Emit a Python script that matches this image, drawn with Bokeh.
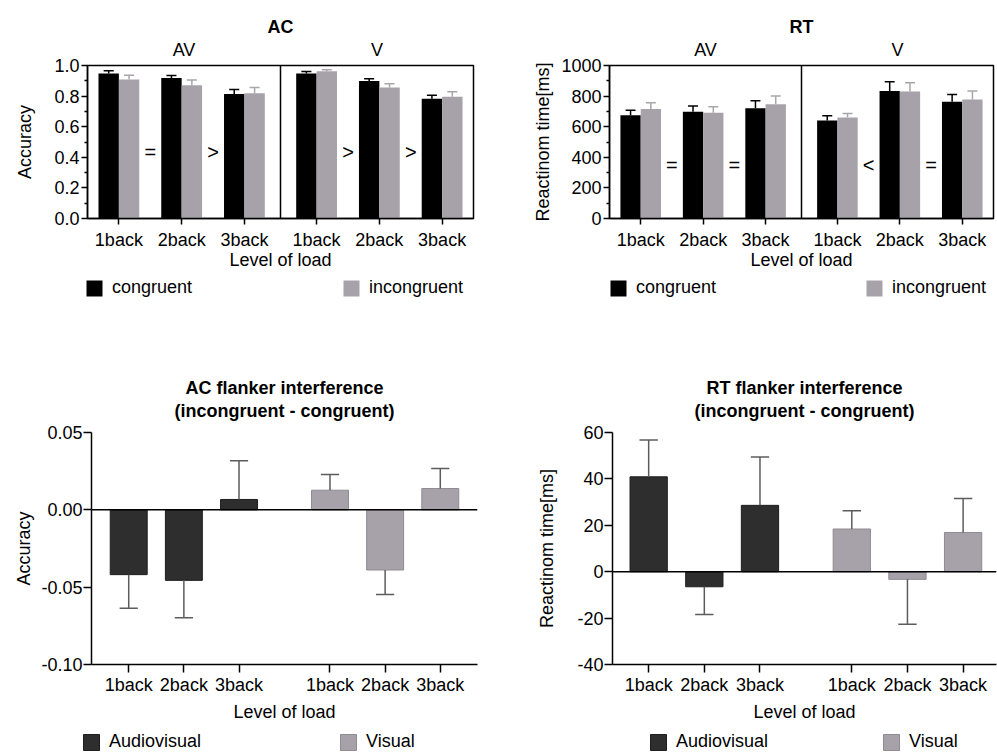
from bokeh.plotting import figure
from bokeh.models import (FixedTicker, NumeralTickFormatter, Span, LinearAxis,
                          Legend, LegendItem, Range1d)
from bokeh.layouts import row, column
from bokeh.embed import file_html
from bokeh.resources import INLINE
from bokeh.core.properties import value

# ---------------- data ----------------
load_levels = ["1back", "2back", "3back"]
modality_groups = ["AV", "V"]

# Accuracy (AV 1-3back, then V 1-3back)
ac_congruent = [0.948, 0.919, 0.813, 0.948, 0.898, 0.782]
ac_congruent_err = [0.017, 0.016, 0.030, 0.013, 0.015, 0.024]
ac_incongruent = [0.908, 0.871, 0.819, 0.963, 0.856, 0.795]
ac_incongruent_err = [0.029, 0.035, 0.037, 0.009, 0.024, 0.033]
ac_comparisons = ["=", ">", ">", ">"]

# Reaction time (ms)
rt_congruent = [675, 697, 721, 641, 834, 763]
rt_congruent_err = [33, 39, 48, 30, 59, 47]
rt_incongruent = [715, 691, 747, 660, 830, 778]
rt_incongruent_err = [41, 39, 53, 26, 57, 56]
rt_comparisons = ["=", "=", "<", "="]

# Flanker interference (incongruent - congruent)
ac_interference_av = [-0.0419, -0.0456, 0.0067]
ac_interference_av_err = [0.0218, 0.0241, 0.0251]
ac_interference_v = [0.0127, -0.0389, 0.0138]
ac_interference_v_err = [0.0101, 0.0159, 0.0129]

rt_interference_av = [40.9, -6.5, 28.6]
rt_interference_av_err = [15.9, 12.0, 20.8]
rt_interference_v = [18.4, -3.3, 16.9]
rt_interference_v_err = [7.9, 19.3, 14.6]

condition_labels = ["congruent", "incongruent"]
modality_labels = ["Audiovisual", "Visual"]
subtitle = "(incongruent - congruent)"

# ---------------- layout / style ----------------
FONT = "Liberation Sans"
FS = "18px"
GRAY = "#a7a2a9"
GRAY_LINE = "#8f8b91"
GRAY_ERR = "#a9a6ab"
DARK = "#2e2e2e"
DARK_LINE = "#1e1e1e"
ERR = "#5c5c5c"

TOP_POS = [80, 160, 240, 332, 412, 492]
TOP_XR = (40, 532)
TOP_DIV = 286
TOP_GROUP_POS = [163, 409]
BOT_POS = [20, 40, 60, 93, 113, 133]


def style_axis(ax):
    ax.axis_line_width = 1.5
    ax.axis_line_color = "black"
    ax.major_tick_line_width = 1.5
    ax.major_tick_line_color = "black"
    ax.minor_tick_line_width = 1.5
    ax.minor_tick_line_color = "black"
    ax.major_tick_in = 0
    ax.minor_tick_in = 0
    ax.major_label_text_font = FONT
    ax.major_label_text_font_size = FS
    ax.major_label_text_color = "black"
    ax.axis_label_text_font = FONT
    ax.axis_label_text_font_size = FS
    ax.axis_label_text_font_style = "normal"
    ax.axis_label_text_color = "black"


def make_fig(xr, yr, fw, fh, left, right, top, bottom):
    p = figure(frame_width=fw, frame_height=fh,
               x_range=Range1d(*xr), y_range=Range1d(*yr),
               output_backend="svg", toolbar_location=None,
               min_border_left=left, min_border_right=right,
               min_border_top=top, min_border_bottom=bottom)
    p.xgrid.visible = False
    p.ygrid.visible = False
    p.background_fill_color = "white"
    p.border_fill_color = "white"
    for ax in p.axis:
        style_axis(ax)
    return p


def text_axis_above(p, ticks, labels, axis_label, standoff, label_standoff,
                    bold):
    xa = LinearAxis(ticker=FixedTicker(ticks=ticks, minor_ticks=[]),
                    major_label_overrides={t: l for t, l in zip(ticks, labels)},
                    axis_label=axis_label)
    style_axis(xa)
    xa.axis_line_color = None
    xa.major_tick_line_color = None
    xa.minor_tick_line_color = None
    xa.major_tick_out = 0
    xa.minor_tick_out = 0
    xa.major_label_standoff = standoff
    xa.axis_label_standoff = label_standoff
    if bold:
        xa.axis_label_text_font_style = "bold"
    p.add_layout(xa, "above")
    return xa


def legend_fig(width, height, labels, series, fills, lines, xs, y):
    # a strip holding the legend; the series are drawn outside its view range
    lf = figure(width=width, height=height, x_range=Range1d(-2, -1),
                y_range=Range1d(-2, -1), output_backend="svg",
                toolbar_location=None, min_border=0,
                x_axis_type=None, y_axis_type=None)
    lf.outline_line_color = None
    lf.background_fill_color = "white"
    lf.border_fill_color = "white"
    for lab, (sx, sy), fc, lc, x in zip(labels, series, fills, lines, xs):
        r = lf.vbar(x=sx, top=sy, bottom=0, width=1, fill_color=fc,
                    line_color=lc)
        leg = Legend(items=[LegendItem(label=lab, renderers=[r])],
                     location=(x, y), orientation="horizontal",
                     glyph_width=20, glyph_height=20, label_height=20,
                     label_width=10, label_standoff=8, padding=0, margin=0,
                     spacing=0, border_line_color=None,
                     background_fill_alpha=0,
                     label_text_font=FONT, label_text_font_size=FS,
                     label_text_color="black")
        lf.add_layout(leg, "center")
    return lf


def top_panel(title, cong, cong_err, inc, inc_err, yr, yticks, yminor, fmt,
              ylabel, comps, comp_y, left, fw, right, ylab_standoff):
    p = make_fig(TOP_XR, yr, fw, 153, left, right, 65, 56)
    half = 13
    xc = [x - half for x in TOP_POS]
    xi = [x + half for x in TOP_POS]
    p.vbar(x=xc, top=cong, bottom=0, width=2 * half,
           fill_color="black", line_color=None)
    p.vbar(x=xi, top=inc, bottom=0, width=2 * half,
           fill_color=GRAY, line_color=None)
    cap = 6.4
    for xs, vals, errs, col in [(xc, cong, cong_err, "black"),
                                (xi, inc, inc_err, GRAY_ERR)]:
        tips = [v + e for v, e in zip(vals, errs)]
        p.segment(x0=xs, y0=vals, x1=xs, y1=tips, line_color=col, line_width=1.5)
        p.segment(x0=[x - cap for x in xs], y0=tips, x1=[x + cap for x in xs],
                  y1=tips, line_color=col, line_width=1.5)
    p.add_layout(Span(location=TOP_DIV, dimension="height",
                      line_color="black", line_width=1.5))
    cx = [(TOP_POS[i] + TOP_POS[i + 1]) / 2 for i in (0, 1, 3, 4)]
    p.text(x=cx, y=[comp_y] * len(cx), text=comps,
           text_font=value(FONT), text_font_size=value("20px"),
           text_align="center", text_baseline="middle", text_color="black")
    p.yaxis.ticker = FixedTicker(ticks=yticks, minor_ticks=yminor)
    p.yaxis.formatter = NumeralTickFormatter(format=fmt)
    p.yaxis.axis_label = ylabel
    p.yaxis.major_tick_out = 6
    p.yaxis.minor_tick_out = 3
    p.yaxis.major_label_standoff = 2
    p.yaxis.axis_label_standoff = ylab_standoff
    xb = p.below[0]
    xb.ticker = FixedTicker(ticks=TOP_POS, minor_ticks=[])
    xb.major_label_overrides = {pos: lab for pos, lab in
                                zip(TOP_POS, load_levels * 2)}
    xb.major_tick_out = 6
    xb.major_label_standoff = 5
    xb.axis_label = "Level of load"
    xb.axis_label_standoff = -3
    text_axis_above(p, TOP_GROUP_POS, modality_groups, title, 6, 0, True)
    p.outline_line_color = "black"
    p.outline_line_width = 1.5
    p.outline_line_alpha = 1.0
    return p, [(xc, cong), (xi, inc)]


def bottom_panel(title, av, av_err, v, v_err, xr, yr, yticks, fmt, ylabel,
                 left, fw, right, ylab_standoff):
    p = make_fig(xr, yr, fw, 232, left, right, 94, 64)
    # two bold title lines built as label-only axes above the frame
    text_axis_above(p, [], [], subtitle, 0, 12, True)
    text_axis_above(p, [], [], title, 0, 0, True)
    w = 13.4
    xa = BOT_POS[:3]
    xv = BOT_POS[3:]
    p.vbar(x=xa, top=av, bottom=0, width=w, fill_color=DARK,
           line_color=DARK_LINE, line_width=1)
    p.vbar(x=xv, top=v, bottom=0, width=w, fill_color=GRAY,
           line_color=GRAY_LINE, line_width=1)
    cap = 3.3
    for xs, vals, errs in [(xa, av, av_err), (xv, v, v_err)]:
        tips = [val + (e if val >= 0 else -e) for val, e in zip(vals, errs)]
        p.segment(x0=xs, y0=vals, x1=xs, y1=tips, line_color=ERR,
                  line_width=1.5)
        p.segment(x0=[x - cap for x in xs], y0=tips,
                  x1=[x + cap for x in xs], y1=tips,
                  line_color=ERR, line_width=1.5)
    p.add_layout(Span(location=0, dimension="width", line_color="black",
                      line_width=1.5))
    p.yaxis.ticker = FixedTicker(ticks=yticks, minor_ticks=[])
    p.yaxis.formatter = NumeralTickFormatter(format=fmt)
    p.yaxis.axis_label = ylabel
    p.yaxis.major_tick_out = 8
    p.yaxis.major_label_standoff = 1
    p.yaxis.axis_label_standoff = ylab_standoff
    xb = p.below[0]
    xb.ticker = FixedTicker(ticks=BOT_POS, minor_ticks=[])
    xb.major_label_overrides = {pos: lab for pos, lab in
                                zip(BOT_POS, load_levels * 2)}
    xb.major_tick_out = 8
    xb.major_label_standoff = 2
    xb.axis_label = "Level of load"
    xb.axis_label_standoff = 4
    p.outline_line_color = None
    return p, [(xa, av), (xv, v)]


p1, s1 = top_panel("AC", ac_congruent, ac_congruent_err, ac_incongruent,
                   ac_incongruent_err, (0, 1), [0, 0.2, 0.4, 0.6, 0.8, 1.0],
                   [0.1, 0.3, 0.5, 0.7, 0.9], "0.0", "Accuracy",
                   ac_comparisons, 0.436, 87, 386, 27, 16)
p2, s2 = top_panel("RT", rt_congruent, rt_congruent_err, rt_incongruent,
                   rt_incongruent_err, (0, 1000),
                   [0, 200, 400, 600, 800, 1000], [100, 300, 500, 700, 900],
                   "0", "Reactinom time[ms]", rt_comparisons, 349,
                   109, 384, 4, 5)
p3, s3 = bottom_panel("AC flanker interference", ac_interference_av,
                      ac_interference_av_err, ac_interference_v,
                      ac_interference_v_err, (6.5, 146.5), (-0.10, 0.05),
                      [-0.10, -0.05, 0.0, 0.05], "0.00", "Accuracy",
                      91, 386, 23, 4)
p4, s4 = bottom_panel("RT flanker interference", rt_interference_av,
                      rt_interference_av_err, rt_interference_v,
                      rt_interference_v_err, (7, 145), (-40, 60),
                      [-40, -20, 0, 20, 40, 60], "0", "Reactinom time[ms]",
                      112, 384, 1, 17)

l1 = legend_fig(500, 64, condition_labels, s1, ["black", GRAY], [None, None],
                [84, 341], 40)
l2 = legend_fig(497, 64, condition_labels, s2, ["black", GRAY], [None, None],
                [108, 364], 40)
l3 = legend_fig(500, 24, modality_labels, s3, [DARK, GRAY],
                [DARK_LINE, GRAY_LINE], [81, 338], 0)
l4 = legend_fig(497, 24, modality_labels, s4, [DARK, GRAY],
                [DARK_LINE, GRAY_LINE], [148, 381], 0)

layout = column(row(p1, p2), row(l1, l2), row(p3, p4), row(l3, l4))
open("out.html", "w").write(file_html(layout, INLINE))
